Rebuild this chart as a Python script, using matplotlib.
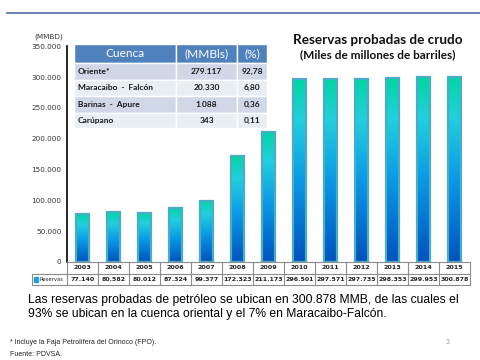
import matplotlib.pyplot as plt
import numpy as np
from matplotlib.colors import LinearSegmentedColormap
from matplotlib.ticker import FuncFormatter, MultipleLocator

years = ['2003', '2004', '2005', '2006', '2007', '2008', '2009',
         '2010', '2011', '2012', '2013', '2014', '2015']
reservas = [77140, 80582, 80012, 87324, 99377, 172323, 211173,
            296501, 297571, 297735, 298353, 299953, 300878]

cuencas = ['Oriente*', 'Maracaibo  -  Falcón', 'Barinas  -  Apure', 'Carúpano']
mmbls = ['279.117', '20.330', '1.088', '343']
pct = ['92,78', '6,80', '0,36', '0,11']

W, H = 480, 360
fig = plt.figure(figsize=(4.8, 3.6), dpi=100)


def box(x0, y0, x1, y1):
    # pixel box (top-left origin) -> figure fraction rect
    return [x0 / W, 1 - y1 / H, (x1 - x0) / W, (y1 - y0) / H]


# thin line at the top of the slide
fig.add_artist(plt.Line2D([7 / W, 1], [1 - 13 / H] * 2, color='#4a6fa5', lw=1.2))

# main chart
ax = fig.add_axes(box(67, 46.4, 470, 262))
x = np.arange(len(years))

cmap = LinearSegmentedColormap.from_list(
    'grad', [(0.0, '#0052be'), (0.45, '#0a9ae6'), (0.78, '#22d0de'), (1.0, '#00d6a2')])
bars = ax.bar(x, reservas, width=0.44, color='none', edgecolor='#4bacc6', lw=1.6, zorder=3)
grad = np.linspace(0, 1, 256).reshape(-1, 1)
for b in bars:
    bx, bw, bh = b.get_x(), b.get_width(), b.get_height()
    ax.imshow(grad, cmap=cmap, origin='lower', aspect='auto',
              extent=[bx, bx + bw, 0, bh], zorder=2)
ax.set_xlim(-0.5, len(years) - 0.5)
ax.set_ylim(0, 350000)

for s in ['top', 'right', 'bottom']:
    ax.spines[s].set_visible(False)
ax.spines['left'].set_linewidth(1.2)
ax.set_xticks([])
ax.yaxis.set_major_locator(MultipleLocator(50000))
ax.yaxis.set_major_formatter(FuncFormatter(lambda v, p: f'{v:,.0f}'.replace(',', '.')))
ax.tick_params(axis='y', length=0, pad=4, labelsize=5.2, labelcolor='#333333')
fig.text(34 / W, 1 - 37 / H, '(MMBD)', fontsize=5.2, color='#333333', va='center')

# data table under the chart
tax = fig.add_axes(box(32, 262, 470, 285))
first = 35 / 31
tax.set_xlim(-0.5 - first, len(years) - 0.5)
tax.set_ylim(2, 0)
tax.axis('off')
lc = '#8c8c8c'
tax.plot([-0.5, len(years) - 0.5], [0, 0], color=lc, lw=0.8, clip_on=False)
tax.plot([-0.5 - first, len(years) - 0.5], [1, 1], color=lc, lw=0.8, clip_on=False)
tax.plot([-0.5 - first, len(years) - 0.5], [2, 2], color=lc, lw=0.8, clip_on=False)
tax.plot([-0.5 - first] * 2, [1, 2], color=lc, lw=0.8, clip_on=False)
for i in range(len(years) + 1):
    tax.plot([i - 0.5] * 2, [0, 2], color=lc, lw=0.8, clip_on=False)
for i, (yr, v) in enumerate(zip(years, reservas)):
    tax.text(i, 0.5, yr, ha='center', va='center', fontsize=4.6, fontweight='bold',
             color='#222222')
    tax.text(i, 1.5, f'{v:,}'.replace(',', '.'), ha='center', va='center',
             fontsize=4.5, fontweight='bold', color='#222222')
tax.add_patch(plt.Rectangle((-0.5 - first + 0.06, 1.3), 0.14, 0.4, color='#2a9fd8',
                            clip_on=False))
tax.text(-0.5 - first + 0.24, 1.5, 'Reservas', ha='left', va='center', fontsize=3.8,
         color='#222222')

# inset table with basins
iax = fig.add_axes(box(74, 44, 267, 128))
iax.set_xlim(74, 267)
iax.set_ylim(128, 44)
iax.axis('off')
cols = [74, 176, 237, 267]
rows = [44, 63, 79.5, 96, 112.5, 128]
hdr = ['Cuenca', '(MMBls)', '(%)']
for j in range(3):
    iax.add_patch(plt.Rectangle((cols[j], rows[0]), cols[j + 1] - cols[j], rows[1] - rows[0],
                                facecolor='#4f81bd', edgecolor='white', lw=1))
    iax.text((cols[j] + cols[j + 1]) / 2, (rows[0] + rows[1]) / 2, hdr[j], color='white',
             ha='center', va='center', fontsize=8.6, fontfamily='Lato')
for r in range(4):
    fc = '#d0d8e8' if r % 2 == 0 else '#e9edf4'
    vals = [cuencas[r], mmbls[r], pct[r]]
    for j in range(3):
        iax.add_patch(plt.Rectangle((cols[j], rows[r + 1]), cols[j + 1] - cols[j],
                                    rows[r + 2] - rows[r + 1], facecolor=fc,
                                    edgecolor='white', lw=1))
        yc = (rows[r + 1] + rows[r + 2]) / 2
        if j == 0:
            iax.text(cols[0] + 4, yc, vals[j], ha='left', va='center', fontsize=6,
                     fontweight='bold', fontfamily='Lato', color='#1a1a1a')
        else:
            iax.text((cols[j] + cols[j + 1]) / 2, yc, vals[j], ha='center', va='center',
                     fontsize=6, fontweight='bold', fontfamily='Lato', color='#1a1a1a')

# title
fig.text(378 / W, 1 - 40 / H, 'Reservas probadas de crudo', ha='center', va='center',
         fontsize=9.7, fontweight='bold', fontfamily='Lato', color='#111111')
fig.text(378 / W, 1 - 55 / H, '(Miles de millones de barriles)', ha='center', va='center',
         fontsize=8.5, fontweight='bold', fontfamily='Lato', color='#111111')

# text below
fig.text(28 / W, 1 - 300 / H,
         'Las reservas probadas de petróleo se ubican en 300.878 MMB, de las cuales el',
         ha='left', va='center', fontsize=8.7, fontfamily='Liberation Sans', color='black')
fig.text(28 / W, 1 - 314.5 / H,
         '93% se ubican en la cuenca oriental y el 7% en Maracaibo-Falcón.',
         ha='left', va='center', fontsize=8.7, fontfamily='Liberation Sans', color='black')
fig.text(10 / W, 1 - 342 / H, '* Incluye la Faja Petrolífera del Orinoco (FPO).',
         ha='left', va='center', fontsize=5, fontfamily='Liberation Sans', color='#222222')
fig.text(10 / W, 1 - 355 / H, 'Fuente: PDVSA.', ha='left', va='center',
         fontsize=5, fontfamily='Liberation Sans', color='#222222')
fig.text(448 / W, 1 - 343 / H, '3', ha='center', va='center', fontsize=5,
         fontfamily='Liberation Sans', color='#999999')

fig.savefig('out.png', dpi=100)
